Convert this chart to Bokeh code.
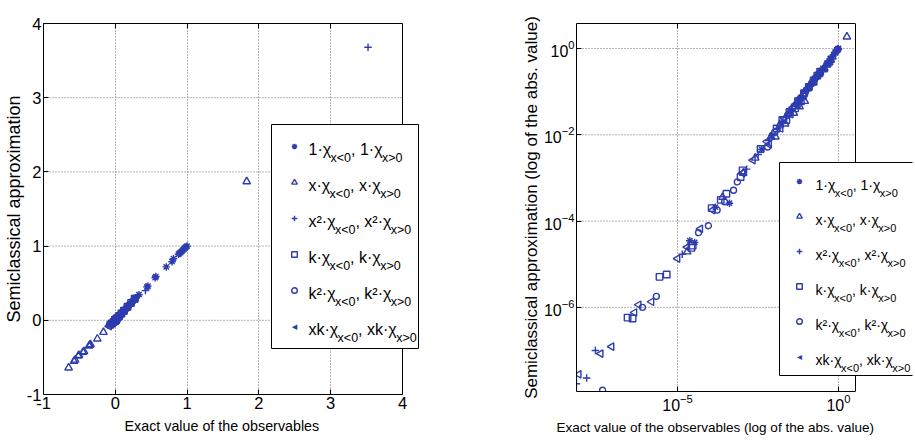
import numpy as np
from bokeh.plotting import figure
from bokeh.models import (Range1d, FixedTicker, Legend, LegendItem, Label, LogTickFormatter,
                          LinearAxis, LogAxis, Span, Title, BoxAnnotation)
from bokeh.layouts import row
from bokeh.core.properties import value
from bokeh.embed import file_html
from bokeh.resources import INLINE

# ---------------- data (exact value, semiclassical approximation) ----------------
names = ["1", "x", "x²", "k", "k²", "xk"]

x1 = [1.0, 0.985, 0.97, 0.955, 0.94, 0.925, 0.91, 0.895, 0.88, 0.81, 0.79, 0.71, 0.565, 0.555,
      0.455, 0.44, 0.33, 0.29, 0.24, 0.19, 0.145, 0.098, 0.061, 0.032, 0.017, 0.0085, 0.0041,
      4.1e-4, 1.5e-4, 3.4e-5, 2.4e-5]
y1 = [1.0, 0.99, 0.975, 0.96, 0.945, 0.93, 0.915, 0.905, 0.89, 0.83, 0.79, 0.72, 0.59, 0.575,
      0.46, 0.45, 0.345, 0.30, 0.255, 0.2, 0.155, 0.105, 0.066, 0.035, 0.019, 0.0095, 0.0046,
      2.6e-4, 2.1e-4, 3.2e-5, 3.5e-5]

x2 = [-0.65, -0.575, -0.56, -0.515, -0.505, -0.45, -0.435, -0.365, -0.355, -0.345, -0.25, -0.165,
      -0.09, -0.062, -0.041, -0.022, -0.011, 0.008, 0.015, 0.028, 0.047, 0.072, 0.11, 0.16, 0.21,
      0.26, 1.83, 2.5e-4, 2.0e-5, 0.0026, 0.0011]
y2 = [-0.64, -0.55, -0.535, -0.48, -0.47, -0.43, -0.42, -0.345, -0.335, -0.325, -0.25, -0.16,
      -0.06, -0.045, -0.032, -0.018, -0.009, 0.009, 0.017, 0.031, 0.051, 0.077, 0.118, 0.17, 0.225,
      0.275, 1.87, 3.6e-4, 1.95e-5, 0.0029, 0.0013]

x3 = [3.52, 0.42, 0.31, 0.27, 0.23, 0.185, 0.14, 0.105, 0.075, 0.052, 0.036, 0.024, 0.013,
      0.0068, 0.0032, 0.0014, 1.4e-5, 2.8e-8, 1.5e-8, 7.2e-9]
y3 = [3.68, 0.40, 0.325, 0.285, 0.245, 0.195, 0.15, 0.112, 0.08, 0.056, 0.039, 0.026, 0.014,
      0.0074, 0.0035, 0.0016, 1.7e-5, 1.0e-7, 2.3e-8, 1.7e-8]

x4 = [-0.068, -0.045, -0.024, 0.012, 0.018, 0.03, 0.055, 0.085, 0.12, 0.17, 0.22, 0.27, 0.0038,
      0.00105, 9.1e-4, 3.3e-4, 2.2e-4, 1.15e-4, 2.95e-5, 2.7e-5, 4.6e-6, 2.75e-6, 4.0e-7, 2.8e-7]
y4 = [-0.06, -0.041, -0.022, 0.014, 0.022, 0.034, 0.06, 0.092, 0.128, 0.182, 0.235, 0.29, 0.0047,
      0.0015, 0.00105, 4.3e-4, 3.1e-4, 2.0e-4, 2.7e-5, 2.4e-5, 5.8e-6, 5.1e-6, 5.5e-7, 5.8e-7]

x5 = [0.28, 0.24, 0.19, 0.145, 0.1, 0.068, 0.042, 0.026, 0.0105, 0.0063, 7.2e-4, 5.5e-4, 2.9e-4,
      1.7e-4, 9.1e-5, 4.5e-5, 2.2e-6, 8.1e-7, 4.7e-8]
y5 = [0.30, 0.255, 0.205, 0.152, 0.108, 0.072, 0.046, 0.028, 0.0115, 0.0052, 8.1e-4, 5.2e-4, 2.8e-4,
      1.8e-4, 7.8e-5, 5.4e-5, 1.8e-6, 1.0e-6, 1.2e-8]

x6 = [-0.085, -0.055, -0.033, -0.016, -0.007, 0.006, 0.021, 0.039, 0.064, 0.095, 0.13, 0.175,
      0.0022, 0.00105, 1.23e-4, 5.1e-5, 2.0e-5, 1.0e-5, 1.55e-6, 6.2e-7, 4.6e-7, 8.9e-8, 4.1e-8, 8.5e-9]
y6 = [-0.08, -0.05, -0.03, -0.014, -0.006, 0.007, 0.024, 0.043, 0.069, 0.101, 0.138, 0.186,
      0.0026, 0.0013, 1.8e-4, 6.6e-5, 2.5e-5, 1.35e-5, 1.35e-6, 1.15e-6, 7.6e-7, 1.23e-7, 8.5e-8, 2.8e-8]

lin_ticks = [-1, 0, 1, 2, 3, 4]
lin_tick_labels = {-1: "-1", 0: "0", 1: "1", 2: "2", 3: "3", 4: "4"}
log_x_ticks = [1e-5, 1.0]
log_y_ticks = [1e-6, 1e-4, 1e-2, 1.0]

xlabel_lin = "Exact value of the observables"
ylabel_lin = "Semiclassical approximation"
xlabel_log = "Exact value of the observables (log of the abs. value)"
ylabel_log = "Semiclassical approximation (log of the abs. value)"

# axis boxes
XLIN = (-1.0, 4.0)
YLIN = (-1.0, 4.0)
XLOG = (10 ** -8.14, 10 ** 0.53)
YLOG = (10 ** -7.95, 10 ** 0.58)
# the frames reach a little past the boxes so the legends can overhang them
XLIN_FRAME_HI = 4.2507
XLOG_FRAME_HI = 10 ** 2.301

# ---------------- styling ----------------
BLUE = "#2d3cae"
GRID = "#6a6a6a"
FONT = "Liberation Sans"
markers = ["asterisk", "triangle", "cross", "square", "circle", "triangle"]
angles = [0, 0, 0, 0, 0, np.pi / 2]
msizes = [7.5, 7.5, 7.5, 6.5, 6, 7.5]
XS = [x1, x2, x3, x4, x5, x6]
YS = [y1, y2, y3, y4, y5, y6]


def style(p, ylab, tick_fs, ylab_fs):
    p.outline_line_color = None
    p.background_fill_color = "white"
    p.border_fill_color = "white"
    for ax in list(p.xaxis) + list(p.yaxis):
        ax.major_tick_in = 5
        ax.major_tick_out = 0
        ax.minor_tick_in = 0
        ax.minor_tick_out = 0
        ax.axis_line_color = "black"
        ax.major_tick_line_color = "black"
        ax.major_label_text_font = FONT
        ax.major_label_text_font_size = tick_fs
        ax.major_label_text_color = "black"
        ax.major_label_standoff = 2
        ax.axis_label_standoff = 0
        ax.axis_label_text_font = FONT
        ax.axis_label_text_font_style = "normal"
        ax.axis_label_text_color = "black"
    p.yaxis.axis_label = ylab
    p.yaxis.axis_label_text_font_size = ylab_fs
    p.xgrid.grid_line_color = GRID
    p.xgrid.grid_line_dash = "1 2"
    p.xgrid.grid_line_width = 1
    p.ygrid.visible = False


def x_title(p, text, offset, fs):
    p.add_layout(Title(text=text, align="left", offset=offset, vertical_align="top", standoff=12,
                       text_font=FONT, text_font_size=fs, text_font_style="normal",
                       text_color="black"), "below")


def box_top(p, axis_cls, bounds, ticks):
    top = axis_cls(bounds=bounds, ticker=FixedTicker(ticks=ticks), major_tick_in=5, major_tick_out=0,
                   minor_tick_in=0, minor_tick_out=0, axis_line_color="black",
                   major_label_overrides={t: "" for t in ticks},
                   major_label_text_font_size="1px", major_label_standoff=0)
    p.add_layout(top, "above")


def ygrid_lines(p, ticks, xb, yb):
    yg = [t for t in ticks if yb[0] < t < yb[1]]
    p.segment(x0=[xb[0]] * len(yg), x1=[xb[1]] * len(yg), y0=yg, y1=yg, line_color=GRID,
              line_dash="1 2", line_width=1, level="image")


CW = {'1': 556, '0': 556, '2': 556, 'x': 500, 'k': 500, '<': 584, '>': 584, ',': 278,
      ' ': 278, '·': 300, 'χ': 520, '²': 333}


def tw(s, size):
    return sum(CW.get(c, 556) for c in s) * size / 1000.0


def add_legend(p, rends, left, bottom, width, pad, gw, gh, spacing, text_x, main_fs, sub_fs,
               sub_drop, tri_fs):
    n = len(rends)
    height = 2 * pad + n * gh + (n - 1) * spacing
    top = bottom + height
    # legend frame (white box with black border)
    p.add_layout(BoxAnnotation(left=left, right=left + width, bottom=bottom, top=top,
                               left_units="screen", right_units="screen",
                               bottom_units="screen", top_units="screen",
                               fill_color="white", fill_alpha=1.0,
                               line_color="black", line_width=1, line_alpha=1.0))
    # legend keys (transparent legend: only the marker glyphs)
    items = [LegendItem(label=value(" "), renderers=[r]) for r in rends]
    leg = Legend(items=items, location=(left, bottom), padding=pad, spacing=spacing,
                 glyph_width=gw, glyph_height=gh, label_height=gh, label_width=20,
                 label_standoff=5, margin=0, label_text_font_size="6px",
                 border_line_color="white", border_line_alpha=0.0, background_fill_alpha=0.0)
    p.add_layout(leg, "center")
    for i, nm in enumerate(names):
        yc = top - pad - gh / 2 - i * (gh + spacing)
        if i == len(names) - 1:
            # left-pointing triangle key (legend keys are always drawn upright)
            p.add_layout(Label(x=left + pad + gw / 2, y=yc, x_units="screen", y_units="screen",
                               text="◂", text_font="DejaVu Sans", text_font_size=f"{tri_fs}px",
                               text_align="center", text_baseline="middle", text_color=BLUE))
        yb = yc - 3
        x = text_x
        pieces = [(nm + "·χ", False), ("x<0", True), (", ", False), (nm + "·χ", False), ("x>0", True)]
        for t, sub in pieces:
            fs = sub_fs if sub else main_fs
            p.add_layout(Label(x=x, y=yb - (sub_drop if sub else 0), x_units="screen", y_units="screen",
                               text=t, text_font=FONT, text_font_size=f"{fs}px",
                               text_baseline="alphabetic", text_align="left", text_color="black"))
            x += tw(t, fs)


# ---------------- left: linear ----------------
p1 = figure(frame_width=377, frame_height=371, min_border_left=43, min_border_right=96,
            min_border_top=23, min_border_bottom=50,
            x_range=Range1d(XLIN[0], XLIN_FRAME_HI), y_range=Range1d(*YLIN),
            output_backend="svg", toolbar_location=None)
p1.xaxis.ticker = FixedTicker(ticks=lin_ticks)
p1.yaxis.ticker = FixedTicker(ticks=lin_ticks)
p1.xaxis.major_label_overrides = lin_tick_labels
p1.yaxis.major_label_overrides = lin_tick_labels
p1.xaxis.bounds = XLIN
style(p1, ylabel_lin, "16.5px", "18px")
x_title(p1, xlabel_lin, 81, "14.3px")
box_top(p1, LinearAxis, XLIN, lin_ticks)
ygrid_lines(p1, lin_ticks, XLIN, YLIN)
p1.add_layout(Span(location=XLIN[1], dimension="height", line_color="black", line_width=1,
                   level="underlay"))
r1 = []
for xs, ys, m, a, s in zip(XS, YS, markers, angles, msizes):
    r1.append(p1.scatter(xs, ys, marker=m, angle=a, size=s, line_color=BLUE, line_width=1.4,
                         fill_color=None))
dummy1 = p1.scatter(x=[], y=[], marker="triangle", line_alpha=0, fill_alpha=0)
add_legend(p1, r1[:5] + [dummy1], left=228, bottom=46, width=147, pad=15, gw=16, gh=14, spacing=22,
           text_x=265, main_fs=16, sub_fs=12.5, sub_drop=8, tri_fs=11)

# ---------------- right: log-log of absolute values ----------------
p2 = figure(frame_width=336, frame_height=368, min_border_left=60, min_border_right=1,
            min_border_top=23, min_border_bottom=53,
            x_axis_type="log", y_axis_type="log",
            x_range=Range1d(XLOG[0], XLOG_FRAME_HI), y_range=Range1d(*YLOG),
            output_backend="svg", toolbar_location=None)
p2.xaxis.ticker = FixedTicker(ticks=log_x_ticks)
p2.yaxis.ticker = FixedTicker(ticks=log_y_ticks)
p2.xaxis.formatter = LogTickFormatter()
p2.yaxis.formatter = LogTickFormatter()
p2.xaxis.bounds = XLOG
style(p2, ylabel_log, "16px", "17px")
x_title(p2, xlabel_log, -20, "13.5px")
box_top(p2, LogAxis, XLOG, log_x_ticks)
ygrid_lines(p2, log_y_ticks, XLOG, YLOG)
p2.add_layout(Span(location=XLOG[1], dimension="height", line_color="black", line_width=1,
                   level="underlay"))
r2 = []
for xs, ys, m, a, s in zip(XS, YS, markers, angles, msizes):
    ax_, ay_ = np.abs(xs), np.abs(ys)
    keep = ax_ <= XLOG[1]          # the axis box clips what lies beyond it
    r2.append(p2.scatter(ax_[keep], ay_[keep], marker=m, angle=a, size=s, line_color=BLUE,
                         line_width=1.4, fill_color=None))
dummy2 = p2.scatter(x=[], y=[], marker="triangle", line_alpha=0, fill_alpha=0)
add_legend(p2, r2[:5] + [dummy2], left=203, bottom=16, width=170, pad=12, gw=16, gh=14, spacing=21,
           text_x=239, main_fs=14, sub_fs=11, sub_drop=8, tri_fs=10)

layout = row(p1, p2)
open("out.html", "w").write(file_html(layout, INLINE))
